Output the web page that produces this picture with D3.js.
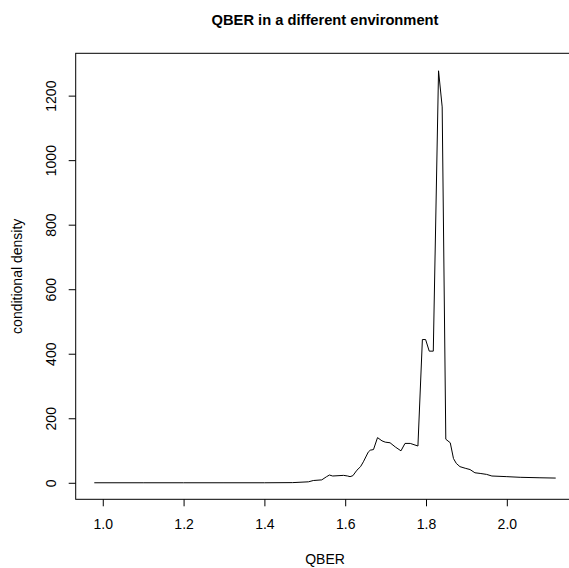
<!DOCTYPE html>
<html>
<head>
<meta charset="utf-8">
<script src="https://cdn.jsdelivr.net/npm/d3@7"></script>
<style>
  html, body { margin: 0; padding: 0; background: #fff; }
  svg { display: block; }
  text { font-family: "Liberation Sans", Arial, Helvetica, sans-serif; fill: #000; }
</style>
</head>
<body>
<svg id="chart" width="569" height="568"></svg>
<script>
// ---- data ----
const qber = [0.979, 1.10, 1.20, 1.30, 1.40, 1.47, 1.509, 1.521, 1.542, 1.554, 1.561, 1.569, 1.596, 1.606, 1.612, 1.619,
  1.629, 1.638, 1.645, 1.657, 1.662, 1.670, 1.680, 1.691, 1.699, 1.711, 1.724, 1.738, 1.748, 1.761, 1.780,
  1.791, 1.799, 1.808, 1.818, 1.831, 1.840, 1.849, 1.860, 1.868, 1.875, 1.884, 1.897, 1.909, 1.921, 1.934,
  1.950, 1.963, 2.000, 2.033, 2.082, 2.121];
const density = [0, 0, 0, 0, 0, 0.5, 3, 7, 9, 19, 24, 21, 23, 21, 19, 22,
  39, 50, 65, 95, 101, 103, 140, 130, 126, 124, 111, 99, 122, 122, 114,
  444, 444, 408, 408, 1277, 1165, 135, 124, 75, 60, 50, 45, 41, 31, 29,
  26, 21, 19, 17, 15.5, 14.6];
const xTicks = [1.0, 1.2, 1.4, 1.6, 1.8, 2.0];
const yTicks = [0, 200, 400, 600, 800, 1000, 1200];
const titleText = "QBER in a different environment";
const xLabel = "QBER";
const yLabel = "conditional density";

// ---- layout ----
const plotL = 75.7, plotR = 574.3, plotT = 53.3, plotB = 499.3;
const svg = d3.select("#chart");

const x = d3.scaleLinear().domain([0.933, 2.167]).range([plotL, plotR]);
const y = d3.scaleLinear().domain([-51.2, 1331.2]).range([plotB, plotT]);

// box
svg.append("rect")
  .attr("x", plotL).attr("y", plotT)
  .attr("width", plotR - plotL).attr("height", plotB - plotT)
  .attr("fill", "none").attr("stroke", "#000").attr("stroke-width", 1);

// x axis
const xAxis = d3.axisBottom(x).tickValues(xTicks).tickFormat(d3.format(".1f"))
  .tickSizeInner(7).tickSizeOuter(0).tickPadding(13);
const gx = svg.append("g").attr("transform", `translate(0,${plotB})`).call(xAxis);
gx.select(".domain").remove();
gx.selectAll("text").style("font-size", "14px").attr("fill", "#000")
  .style("font-family", "'Liberation Sans', Arial, sans-serif");

// y axis
const yAxis = d3.axisLeft(y).tickValues(yTicks).tickFormat(d3.format("d"))
  .tickSizeInner(7).tickSizeOuter(0).tickPadding(0);
const gy = svg.append("g").attr("transform", `translate(${plotL},0)`).call(yAxis);
gy.select(".domain").remove();
gy.selectAll(".tick text")
  .attr("x", 0).attr("dy", 0)
  .attr("text-anchor", "middle")
  .attr("transform", "translate(-20,0) rotate(-90)")
  .style("font-size", "14px").attr("fill", "#000")
  .style("font-family", "'Liberation Sans', Arial, sans-serif");

// data line
const line = d3.line().x((d, i) => x(qber[i])).y((d, i) => y(density[i]));
svg.append("path")
  .datum(density)
  .attr("d", line)
  .attr("fill", "none")
  .attr("stroke", "#000")
  .attr("stroke-width", 1);

// title
svg.append("text")
  .attr("x", (plotL + plotR) / 2).attr("y", 24.5)
  .attr("text-anchor", "middle")
  .style("font-size", "14.7px").style("font-weight", "bold")
  .text(titleText);

// x label
svg.append("text")
  .attr("x", (plotL + plotR) / 2).attr("y", 564)
  .attr("text-anchor", "middle")
  .style("font-size", "14px")
  .text(xLabel);

// y label
svg.append("text")
  .attr("transform", `translate(22,${(plotT + plotB) / 2}) rotate(-90)`)
  .attr("text-anchor", "middle")
  .style("font-size", "14px")
  .text(yLabel);
</script>
</body>
</html>
